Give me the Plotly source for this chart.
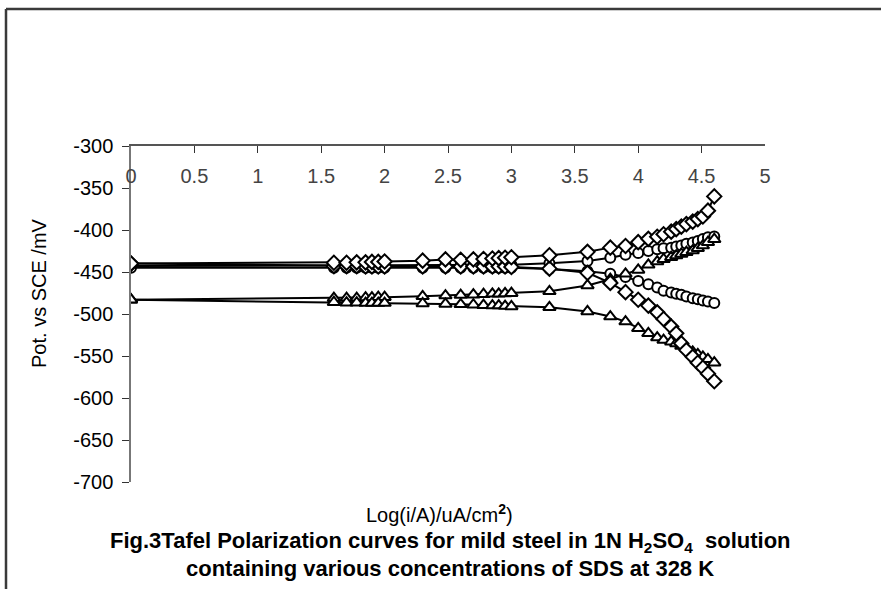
import plotly.graph_objects as go

# log current density (x) for every recorded point
log_i = [0, 1.6, 1.7, 1.78, 1.85, 1.9, 1.95, 2.0,
         2.3, 2.48, 2.6, 2.7, 2.78, 2.85, 2.9, 2.95, 3.0,
         3.3, 3.6, 3.78, 3.9, 4.0, 4.08, 4.15, 4.2, 4.26,
         4.3, 4.34, 4.38, 4.43, 4.47, 4.51, 4.55, 4.6]

diamond_anodic = [-440, -439, -439, -438.5, -438.5, -438, -438, -437.5,
                  -436.5, -435, -435.5, -435, -434.5, -434, -433.5, -433, -432.5,
                  -430, -426, -421, -419, -414.5, -410.5, -408, -405, -402,
                  -399, -396, -393, -390, -387, -384, -377, -360]
diamond_cathodic = [-440, -443, -443, -443, -443.5, -443.5, -443.5, -443.5,
                    -443.5, -443.5, -443.5, -443.5, -443.5, -443.5, -443.5, -443.5, -444,
                    -446, -451, -463, -474, -483, -490, -498, -506, -515,
                    -523, -535, -543, -551, -558, -564, -571, -580]
circle_anodic = [-443, -442.5, -442.5, -442.5, -442.5, -442.5, -442.5, -442.5,
                 -442, -442, -442, -442, -442, -441.5, -441.5, -441.5, -441.5,
                 -439.5, -437, -433, -429.5, -427.5, -425, -423, -421.7, -421,
                 -419.7, -418.5, -416.5, -415, -413, -410.6, -408.6, -407.8]
circle_cathodic = [-445, -445, -445, -445, -445, -445, -445, -445,
                   -445, -445, -445, -445, -445, -445, -445, -445, -445,
                   -446.5, -449, -452, -456, -460.6, -464.5, -468.5, -472.4, -474.4,
                   -476, -477.2, -479.2, -481.2, -482.4, -484, -485.2, -487]
triangle_anodic = [-483, -481.2, -481, -481, -480.5, -480.5, -480, -480,
                   -479, -478, -477.5, -477, -476.5, -476, -476, -475.5, -475.2,
                   -473, -466, -458.6, -452.2, -447.5, -441.5, -437.6, -434.8, -432.4,
                   -430.5, -428.5, -426.5, -424.5, -421.7, -418.5, -414.6, -411]
triangle_cathodic = [-483, -486, -486.5, -486.5, -487, -487, -487, -487,
                     -487.5, -488, -488.5, -489, -489.5, -490, -490, -490.5, -491,
                     -492, -497, -503, -509, -517, -523, -528, -531, -533,
                     -535, -538, -541, -545, -548, -551, -554, -558]

y_ticks = [-300, -350, -400, -450, -500, -550, -600, -650, -700]
y_tick_labels = ["-300", "-350", "-400", "-450", "-500", "-550", "-600", "-650", "-700"]
x_ticks = [0, 0.5, 1, 1.5, 2, 2.5, 3, 3.5, 4, 4.5, 5]
x_tick_labels = ["0", "0.5", "1", "1.5", "2", "2.5", "3", "3.5", "4", "4.5", "5"]

series = [
    (circle_anodic, "circle"), (circle_cathodic, "circle"),
    (triangle_anodic, "triangle-up"), (triangle_cathodic, "triangle-up"),
    (diamond_cathodic, "diamond"), (diamond_anodic, "diamond"),
]

FONT = "Arial, Liberation Sans, sans-serif"

fig = go.Figure()
for ys, sym in series:
    fig.add_trace(go.Scatter(
        x=log_i, y=ys, mode="lines+markers",
        line=dict(color="black", width=2),
        marker=dict(symbol=sym, size=11 if sym != "circle" else 10,
                    color="white", line=dict(color="black", width=2)),
        showlegend=False,
    ))

fig.update_layout(
    width=881, height=589,
    margin=dict(l=131, r=116, t=146, b=107),
    paper_bgcolor="white", plot_bgcolor="white",
    font=dict(family=FONT, size=20, color="black"),
    xaxis=dict(range=[0, 5], tickvals=x_ticks, ticktext=x_tick_labels,
               side="top", ticks="inside", ticklen=7, tickcolor="#333",
               ticklabelposition="inside", ticklabeloverflow="allow",
               ticklabelstandoff=17,
               showline=True, linecolor="#555", linewidth=1.5,
               showgrid=False, zeroline=False, tickfont=dict(family=FONT, size=20)),
    yaxis=dict(range=[-700, -300], tickvals=y_ticks, ticktext=y_tick_labels,
               ticks="outside", ticklen=7, ticklabelstandoff=5,
               tickcolor="#333", showline=True, linecolor="#777", linewidth=1.5,
               showgrid=False, zeroline=False, tickfont=dict(family=FONT, size=20)),
)

# place annotations by pixel positions converted to paper coords
L, T, W, H = 131, 146, 881 - 131 - 116, 589 - 146 - 107
def px(xp): return (xp - L) / W
def py(yp): return (T + H - yp) / H

texts = [
    ("Pot. vs SCE /mV", 39, 293, -90, 20),
    ("Log(i/A)/uA/cm<b><sup>2</sup></b>)", 439, 513, 0, 20),
    ("<b>Fig.3Tafel Polarization curves for mild steel in 1N H<sub>2</sub>SO<sub>4</sub>  solution</b>", 450, 542, 0, 22),
    ("<b>containing various concentrations of SDS at 328 K</b>", 450, 568, 0, 22),
]
for t, xp, yp, ang, sz in texts:
    fig.add_annotation(text=t, xref="paper", yref="paper", x=px(xp), y=py(yp),
                       xanchor="center", yanchor="middle", showarrow=False,
                       textangle=ang, font=dict(family=FONT, size=sz, color="black"))

fig.add_shape(type="line", xref="paper", yref="paper", x0=px(6), x1=px(885), y0=py(9), y1=py(9),
              line=dict(color="#3a3a3a", width=2.5))
fig.add_shape(type="line", xref="paper", yref="paper", x0=px(6), x1=px(6), y0=py(9), y1=py(595),
              line=dict(color="#3a3a3a", width=2.5))

fig.write_html("out.html")
